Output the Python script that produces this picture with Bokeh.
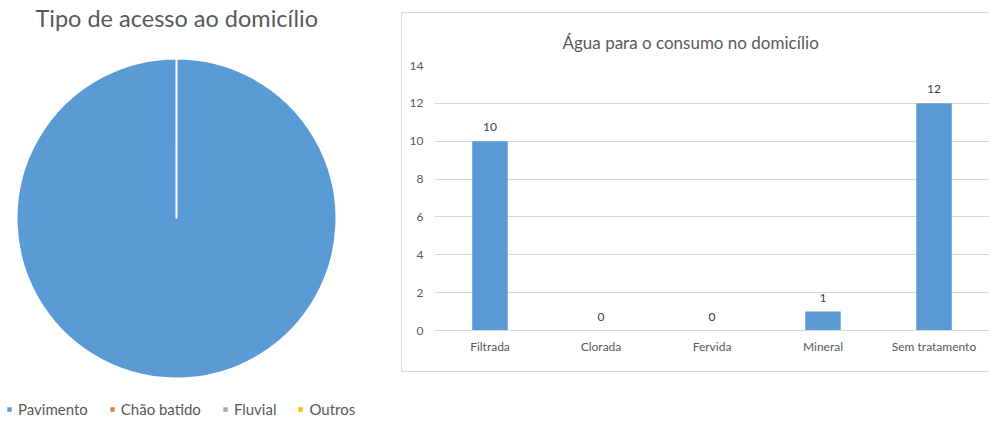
import math
from bokeh.plotting import figure
from bokeh.models import (ColumnDataSource, Range1d, FactorRange, Label, LabelSet,
                          FixedTicker, Title)
from bokeh.core.properties import value
from bokeh.layouts import row
from bokeh.embed import file_html
from bokeh.resources import INLINE

# ---------------- data ----------------
pie_title = "Tipo de acesso ao domicílio"
pie_categories = ["Pavimento", "Chão batido", "Fluvial", "Outros"]
pie_values = [100, 0, 0, 0]
pie_colors = ["#5b9bd5", "#ed7d31", "#a5a5a5", "#ffc000"]

bar_title = "Água para o consumo no domicílio"
bar_categories = ["Filtrada", "Clorada", "Fervida", "Mineral", "Sem tratamento"]
bar_values = [10, 0, 0, 1, 12]
y_ticks = [0, 2, 4, 6, 8, 10, 12, 14]

FONT = "Lato"
TEXT = "#595959"
BLUE = "#5b9bd5"
GRID = "#d9d9d9"

# ---------------- pie ----------------
W1, H = 401, 420
R = 160
p1 = figure(width=W1, height=H, output_backend="svg", toolbar_location=None,
            x_range=Range1d(0, W1), y_range=Range1d(H, 0),
            min_border=0, min_border_left=0, min_border_right=0,
            min_border_top=0, min_border_bottom=0, outline_line_color=None)
p1.frame_align = False
p1.axis.visible = False
p1.grid.visible = False

total = sum(pie_values)
starts, ends, radii = [], [], []
acc = 0.0
for v in pie_values:
    a0 = math.pi / 2 - 2 * math.pi * acc / total
    span = min(2 * math.pi * v / total, 2 * math.pi - 1e-4)
    acc += v
    starts.append(a0)
    ends.append(a0 - span)
    radii.append(R if v > 0 else 0)

psrc = ColumnDataSource(dict(cat=pie_categories, val=pie_values, color=pie_colors,
                             start=starts, end=ends, r=radii,
                             x=[176] * len(pie_values), y=[218] * len(pie_values)))
p1.wedge(x="x", y="y", radius="r", start_angle="start", end_angle="end",
         direction="clock", fill_color="color", line_color="white", line_width=2,
         legend_field="cat", source=psrc)

leg = p1.legend[0]
leg.orientation = "horizontal"
leg.location = (5, 2)
leg.border_line_color = None
leg.background_fill_alpha = 0
leg.label_text_font = FONT
leg.label_text_font_size = "15px"
leg.label_text_color = TEXT
leg.glyph_width = 8
leg.glyph_height = 8
leg.label_standoff = 5
leg.spacing = 20
leg.padding = 0
leg.margin = 0
leg.label_height = 14

p1.add_layout(Label(x=35, y=17, text=pie_title, text_font=FONT, text_font_size="23.5px",
                    text_color=TEXT, text_baseline="middle"))

# ---------------- bars ----------------
W2, H2 = 588, 360
p2 = figure(width=W2, height=H2, output_backend="svg", toolbar_location=None,
            x_range=FactorRange(*bar_categories, range_padding=0),
            y_range=Range1d(0, 14),
            min_border_left=32, min_border_right=1, min_border_top=52,
            min_border_bottom=43, outline_line_color=None)
p2.frame_align = False
p2.margin = (12, 0, 0, 0)
p2.styles = {"border-top": "1px solid #d9d9d9", "border-left": "1px solid #d9d9d9",
             "border-bottom": "1px solid #d9d9d9"}

p2.title = Title(text=bar_title, align="left", text_font=FONT, text_font_size="17px",
                 text_color=TEXT, text_font_style="normal", standoff=26, offset=128)

bsrc = ColumnDataSource(dict(cat=bar_categories, val=bar_values,
                             txt=[str(v) for v in bar_values]))
p2.vbar(x="cat", top="val", width=0.32, fill_color=BLUE, line_color=None, source=bsrc)
p2.add_layout(LabelSet(x="cat", y="val", text="txt", source=bsrc, y_offset=10,
                       text_align="center", text_baseline="bottom",
                       text_font=value(FONT), text_font_size=value("12px"),
                       text_color="#404040"))

p2.xgrid.visible = False
p2.ygrid.grid_line_color = GRID
p2.yaxis.ticker = FixedTicker(ticks=y_ticks)
p2.yaxis.axis_line_color = None
p2.yaxis.major_tick_line_color = None
p2.yaxis.minor_tick_line_color = None
p2.yaxis.major_label_standoff = 5
p2.xaxis.axis_line_color = GRID
p2.xaxis.major_tick_line_color = None
p2.xaxis.minor_tick_line_color = None
p2.xaxis.major_label_standoff = 2
for ax in (p2.xaxis, p2.yaxis):
    ax.major_label_text_font = FONT
    ax.major_label_text_color = TEXT
p2.xaxis.major_label_text_font_size = "12px"
p2.yaxis.major_label_text_font_size = "12px"

layout = row(p1, p2, spacing=0)
open("out.html", "w").write(file_html(layout, INLINE))
